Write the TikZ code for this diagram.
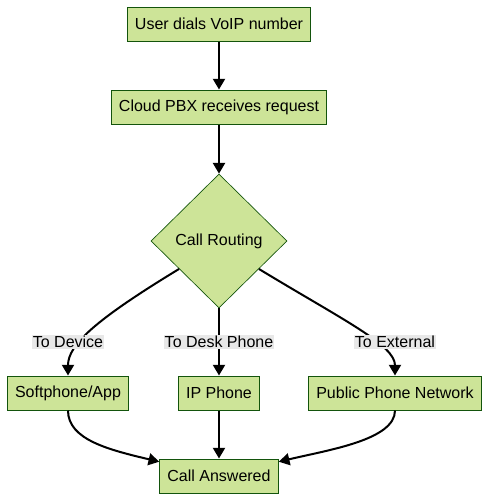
\documentclass[tikz,border=0pt]{standalone}
\usepackage{fontspec}
\setmainfont{Liberation Sans}
\usetikzlibrary{shapes.geometric,arrows.meta}
\definecolor{stepfill}{HTML}{CDE498}
\definecolor{stepline}{HTML}{13540C}
\definecolor{lblfill}{HTML}{E8E8E8}

\begin{document}
\begin{tikzpicture}[x=0.75pt,y=-0.75pt,
    box/.style={draw=stepline, fill=stepfill, line width=0.75pt, minimum height=25.5pt,
      inner xsep=5.8pt, inner ysep=0pt, font=\fontsize{12}{14}\selectfont},
    decide/.style={diamond, draw=stepline, fill=stepfill, line width=0.5pt,
      minimum width=102pt, minimum height=100.5pt, inner sep=0pt, font=\fontsize{12}{14}\selectfont},
    lbl/.style={fill=lblfill, inner xsep=0.5pt, inner ysep=1pt, font=\fontsize{12}{14}\selectfont},
    arr/.style={-{Triangle[length=8pt,width=9pt]}, line width=1.5pt}]
  \useasboundingbox (0,0) rectangle (490,501);

  % Steps
  \node[box]    (user)  at (219,24)  {User dials VoIP number};
  \node[box]    (pbx)   at (219,107) {Cloud PBX receives request};
  \node[decide] (route) at (219,241) {Call Routing};
  \node[box]    (soft)  at (68,393)  {Softphone/App};
  \node[box]    (ip)    at (219,393) {IP Phone};
  \node[box]    (pstn)  at (395,393) {Public Phone Network};
  \node[box]    (done)  at (219,476) {Call Answered};

  % Edges
  \draw[arr] (user) -- (pbx);
  \draw[arr] (pbx) -- (route);
  \draw[arr] (route.-145) .. controls (95,320) and (68,345) .. (soft);
  \draw[arr] (route) -- (ip);
  \draw[arr] (route.-35) .. controls (343,320) and (395,345) .. (pstn);
  \draw[arr] (soft) .. controls (68,440) and (110,450) .. (done);
  \draw[arr] (ip) -- (done);
  \draw[arr] (pstn) .. controls (395,440) and (328,450) .. (done);

  % Edge labels
  \node[lbl] (ldev)  at (68,342)  {To Device};
  \node[lbl] (ldesk) at (219,342) {To Desk Phone};
  \node[lbl] (lext)  at (395,342) {To External};
\end{tikzpicture}
\end{document}
